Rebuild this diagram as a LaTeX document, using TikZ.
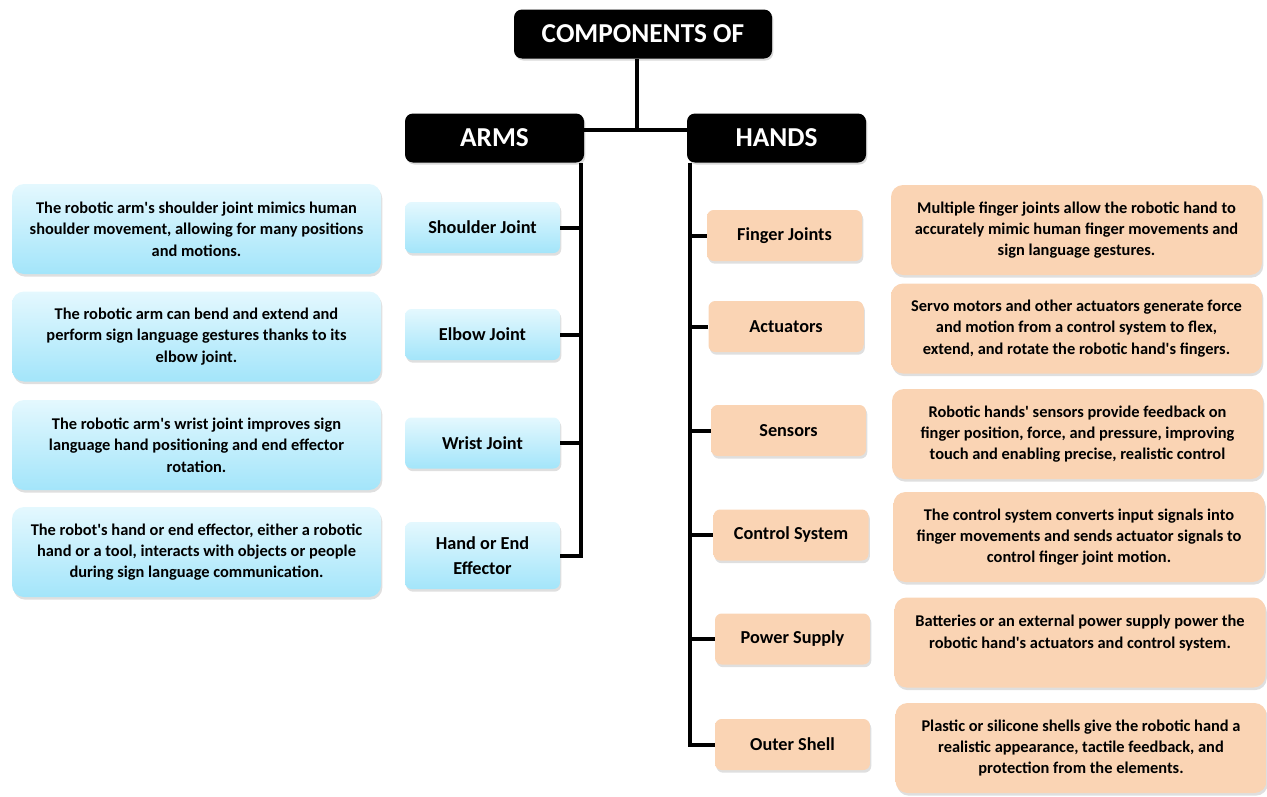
\documentclass[tikz,border=0pt]{standalone}
\usepackage{fontspec}
\setmainfont{Carlito}[Ligatures=TeXOff]
\usetikzlibrary{shadows}

\definecolor{blueTop}{HTML}{E4F8FE}
\definecolor{blueBot}{HTML}{A3E5FA}
\definecolor{peach}{HTML}{FAD4B4}

\tikzset{
  headbox/.style={fill=black, text=white, rounded corners=6pt, minimum width=134.25pt,
    minimum height=36.75pt, font=\fontsize{20.5}{24}\selectfont\bfseries,
    drop shadow={shadow xshift=1pt, shadow yshift=-1.5pt, opacity=0.3}},
  softshadow/.style={drop shadow={shadow xshift=1pt, shadow yshift=-2pt, opacity=0.25}},
  armsub/.style={top color=blueTop, bottom color=blueBot, rounded corners=5pt, minimum width=116.25pt,
    minimum height=38.25pt, align=center, font=\fontsize{13.7}{18.5}\selectfont\bfseries, softshadow},
  armdesc/.style={top color=blueTop, bottom color=blueBot, rounded corners=9pt, minimum width=276.75pt,
    minimum height=67.5pt, align=center, font=\fontsize{12.3}{16}\selectfont\bfseries, softshadow},
  handsub/.style={armsub, top color=peach, bottom color=peach},
  handdesc/.style={armdesc, top color=peach, bottom color=peach, minimum width=278.25pt},
  trunk/.style={line width=3pt}
}

\begin{document}
\begin{tikzpicture}[x=0.75pt, y=-0.75pt]
  \useasboundingbox (0,0) rectangle (1267,796);

  % top level
  \node[headbox, minimum width=193.5pt] (T) at (643,34) {COMPONENTS OF};
  \node[headbox] (A) at (494.5,138) {ARMS};
  \node[headbox] (H) at (776.5,138) {HANDS};

  \coordinate (J) at (637,130);
  \coordinate (aT) at (581,0);
  \coordinate (hT) at (690,0);

  % arms side
  \node[armsub] (as1) at (482.5,227.5) {Shoulder Joint};
  \node[armsub] (as2) at (482.5,334.5) {Elbow Joint};
  \node[armsub] (as3) at (482.5,443) {Wrist Joint};
  \node[armsub, minimum height=50.25pt] (as4) at (482.5,555.5) {Hand or End\\Effector};

  \node[armdesc] (ad1) at (196.5,229) {The robotic arm's shoulder joint mimics human\\shoulder movement, allowing for many positions\\and motions.};
  \node[armdesc] (ad2) at (196.5,336.5) {The robotic arm can bend and extend and\\perform sign language gestures thanks to its\\elbow joint.};
  \node[armdesc] (ad3) at (196.5,445) {The robotic arm's wrist joint improves sign\\language hand positioning and end effector\\rotation.};
  \node[armdesc] (ad4) at (196.5,552) {The robot's hand or end effector, either a robotic\\hand or a tool, interacts with objects or people\\during sign language communication.};

  % hands side
  \node[handsub] (hs1) at (784.5,235.5) {Finger Joints};
  \node[handsub] (hs2) at (786,326.5) {Actuators};
  \node[handsub] (hs3) at (788.5,430.5) {Sensors};
  \node[handsub] (hs4) at (791,535) {Control System};
  \node[handsub] (hs5) at (792.5,639) {Power Supply};
  \node[handsub] (hs6) at (792.5,744.5) {Outer Shell};

  \node[handdesc] (hd1) at (1076.5,230) {Multiple finger joints allow the robotic hand to\\accurately mimic human finger movements and\\sign language gestures.};
  \node[handdesc] (hd2) at (1076.5,328.5) {Servo motors and other actuators generate force\\and motion from a control system to flex,\\extend, and rotate the robotic hand's fingers.};
  \node[handdesc] (hd3) at (1077.5,434) {Robotic hands' sensors provide feedback on\\finger position, force, and pressure, improving\\touch and enabling precise, realistic control};
  \node[handdesc] (hd4) at (1079,537) {The control system converts input signals into\\finger movements and sends actuator signals to\\control finger joint motion.};
  \node[handdesc] (hd5) at (1080,642.5) {Batteries or an external power supply power the\\robotic hand's actuators and control system.\\\mbox{}};
  \node[handdesc] (hd6) at (1081,748) {Plastic or silicone shells give the robotic hand a\\realistic appearance, tactile feedback, and\\protection from the elements.};

  % connectors
  \draw[trunk] (T.south -| J) -- (J);
  \draw[trunk] (A.east |- J) -- (H.west |- J);
  \draw[trunk] (A.south -| aT) -- (aT |- as4.east) -- (as4.east);
  \foreach \s in {as1,as2,as3}
    \draw[trunk] (\s.east) -- (\s.east -| aT);
  \draw[trunk] (H.south -| hT) -- (hT |- hs6.west) -- (hs6.west);
  \foreach \s in {hs1,hs2,hs3,hs4,hs5}
    \draw[trunk] (\s.west -| hT) -- (\s.west);
\end{tikzpicture}
\end{document}
